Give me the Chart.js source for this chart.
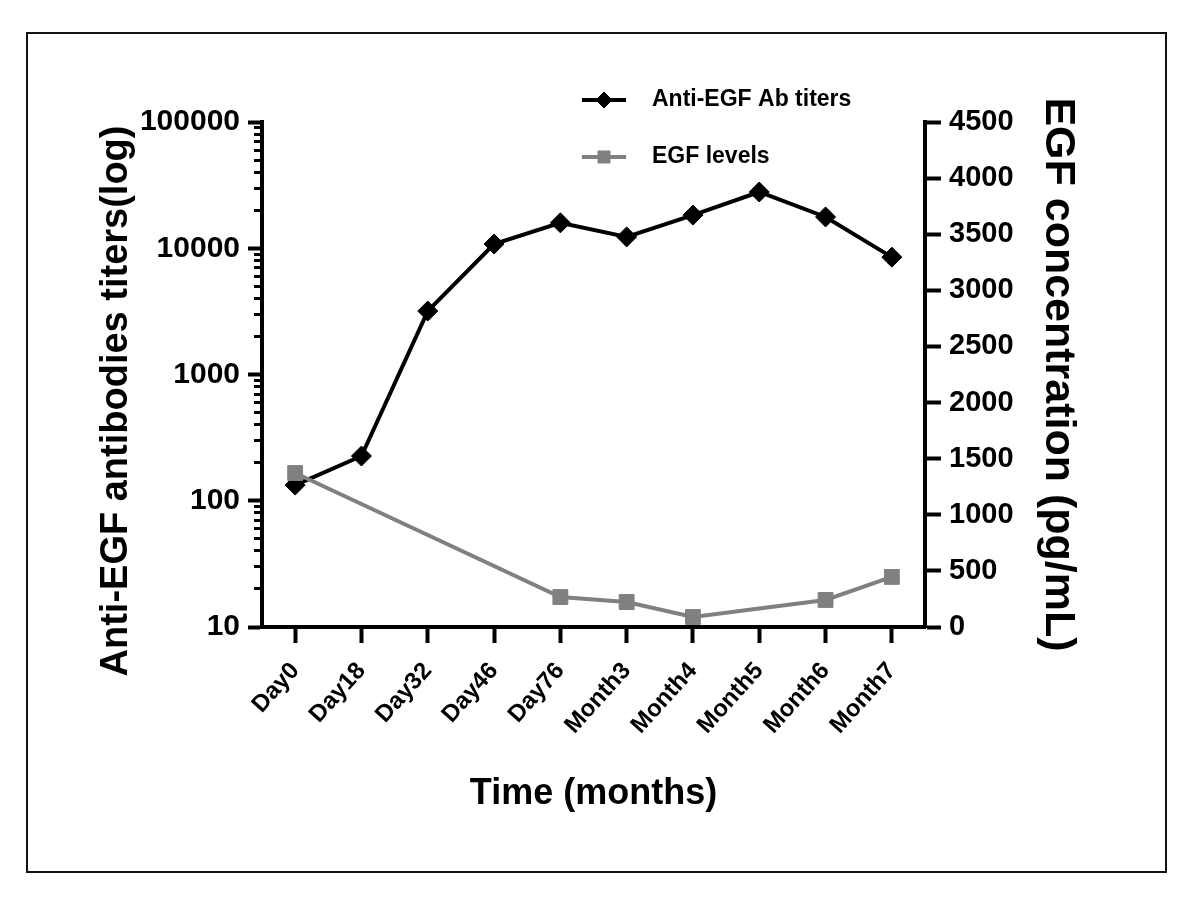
<!DOCTYPE html>
<html>
<head>
<meta charset="utf-8">
<script src="https://cdn.jsdelivr.net/npm/chart.js@4.4.1/dist/chart.umd.min.js"></script>
<style>
  body { margin: 0; background: #fff; }
  #wrap { width: 1200px; height: 907px; }
</style>
</head>
<body>
<div id="wrap"><canvas id="titerChart"></canvas></div>
<script>
// values
var timePoints = ['Day0', 'Day18', 'Day32', 'Day46', 'Day76', 'Month3', 'Month4', 'Month5', 'Month6', 'Month7'];
var antibodyTiters = [133, 226, 3180, 10800, 15900, 12300, 18300, 27900, 17700, 8500];
var egfLevels = [1372, null, null, null, 267, 223, 89, null, 241, 446];
var logTicks = [10, 100, 1000, 10000, 100000];
var egfTicks = [0, 500, 1000, 1500, 2000, 2500, 3000, 3500, 4000, 4500];

var FONT = '"Liberation Sans", Arial, sans-serif';

function isDecade(v) {
  return logTicks.indexOf(v) >= 0;
}

// frame, left axis title and legend
var extras = {
  id: 'extras',
  beforeDraw: function(chart) {
    var ctx = chart.ctx;
    ctx.save();
    ctx.fillStyle = '#fff';
    ctx.fillRect(0, 0, chart.width, chart.height);
    ctx.restore();
  },
  afterDraw: function(chart) {
    var ctx = chart.ctx;
    ctx.save();
    ctx.strokeStyle = '#111';
    ctx.lineWidth = 2;
    ctx.strokeRect(27, 33, 1139, 839);

    ctx.save();
    ctx.translate(117, 401);
    ctx.rotate(-Math.PI / 2);
    ctx.fillStyle = '#000';
    ctx.font = 'bold 38px ' + FONT;
    ctx.textAlign = 'center';
    ctx.textBaseline = 'middle';
    ctx.fillText('Anti-EGF antibodies titers(log)', 0, 0);
    ctx.restore();

    var rows = [100, 157];
    chart.data.datasets.forEach(function(ds, i) {
      var y = rows[i];
      ctx.strokeStyle = ds.borderColor;
      ctx.fillStyle = ds.backgroundColor;
      ctx.lineWidth = 4;
      ctx.beginPath();
      ctx.moveTo(582, y);
      ctx.lineTo(626, y);
      ctx.stroke();
      ctx.lineWidth = 1;
      Chart.helpers.drawPoint(ctx, { pointStyle: ds.pointStyle, radius: ds.pointRadius - 2, borderWidth: 1, rotation: 0 }, 604, y);
      ctx.fillStyle = '#000';
      ctx.font = 'bold 23px ' + FONT;
      ctx.textAlign = 'left';
      ctx.textBaseline = 'middle';
      ctx.fillText(ds.label, 652, y);
    });
    ctx.restore();
  }
};

const ctx = document.getElementById('titerChart');
const titerChart = new Chart(ctx, {
  type: 'line',
  data: {
    labels: timePoints,
    datasets: [
      {
        label: 'Anti-EGF Ab titers',
        data: antibodyTiters,
        yAxisID: 'y',
        borderColor: '#000',
        backgroundColor: '#000',
        borderWidth: 4,
        pointStyle: 'rectRot',
        pointRadius: 10,
        pointBorderWidth: 1,
        tension: 0,
        order: 2,
      },
      {
        label: 'EGF levels',
        data: egfLevels,
        yAxisID: 'y2',
        borderColor: '#808080',
        backgroundColor: '#808080',
        borderWidth: 4,
        pointStyle: 'rect',
        pointRadius: 10.5,
        pointBorderWidth: 1,
        spanGaps: true,
        tension: 0,
        order: 1,
      },
    ]
  },
  options: {
    responsive: true,
    maintainAspectRatio: false,
    animation: false,
    layout: { padding: { top: 122, left: 0, right: 116, bottom: 91 } },
    plugins: {
      legend: { display: false },
      tooltip: { enabled: false },
    },
    scales: {
      x: {
        offset: true,
        grid: { drawOnChartArea: false, offset: false, tickLength: 16, tickWidth: 4, tickColor: '#000' },
        border: { color: '#000', width: 4 },
        ticks: {
          color: '#000',
          font: { family: FONT, size: 24, weight: 'bold' },
          minRotation: 48,
          maxRotation: 48,
          autoSkip: false,
          padding: 14,
        },
        title: {
          display: true,
          text: 'Time (months)',
          color: '#000',
          font: { family: FONT, size: 36, weight: 'bold' },
          padding: 0,
        },
        afterFit: function(scale) { scale.height = 189; },
      },
      y: {
        type: 'logarithmic',
        position: 'left',
        min: 10,
        max: 100000,
        afterBuildTicks: function(scale) {
          var list = [];
          for (var d = 0; d < logTicks.length - 1; d++) {
            for (var k = 1; k < 10; k++) {
              var v = logTicks[d] * k;
              list.push({ value: v, major: k === 1 });
            }
          }
          list.push({ value: logTicks[logTicks.length - 1], major: true });
          scale.ticks = list;
        },
        grid: {
          drawOnChartArea: false,
          tickLength: 14,
          tickColor: '#000',
          tickWidth: function(c) { return c.tick && isDecade(c.tick.value) ? 4 : 3; },
          tickBorderDash: function(c) { return c.tick && isDecade(c.tick.value) ? [] : [0, 6, 6, 100]; },
        },
        border: { color: '#000', width: 4 },
        ticks: {
          autoSkip: false,
          color: '#000',
          padding: 8,
          font: { family: FONT, size: 30, weight: 'bold' },
          callback: function(v) { return isDecade(v) ? String(v) : ''; },
        },
        afterFit: function(scale) { scale.width = 262; },
      },
      y2: {
        type: 'linear',
        position: 'right',
        min: egfTicks[0],
        max: egfTicks[egfTicks.length - 1],
        afterBuildTicks: function(scale) {
          scale.ticks = egfTicks.map(function(v) { return { value: v }; });
        },
        grid: { drawOnChartArea: false, tickLength: 16, tickWidth: 4, tickColor: '#000' },
        border: { color: '#000', width: 4 },
        ticks: {
          color: '#000',
          padding: 8,
          font: { family: FONT, size: 29, weight: 'bold' },
          callback: function(v) { return String(v); },
        },
        title: {
          display: true,
          text: 'EGF concentration (pg/mL)',
          color: '#000',
          font: { family: FONT, size: 43, weight: 'bold' },
          padding: 0,
        },
        afterFit: function(scale) { scale.width = 159; },
      },
    },
  },
  plugins: [extras],
});
</script>
</body>
</html>
